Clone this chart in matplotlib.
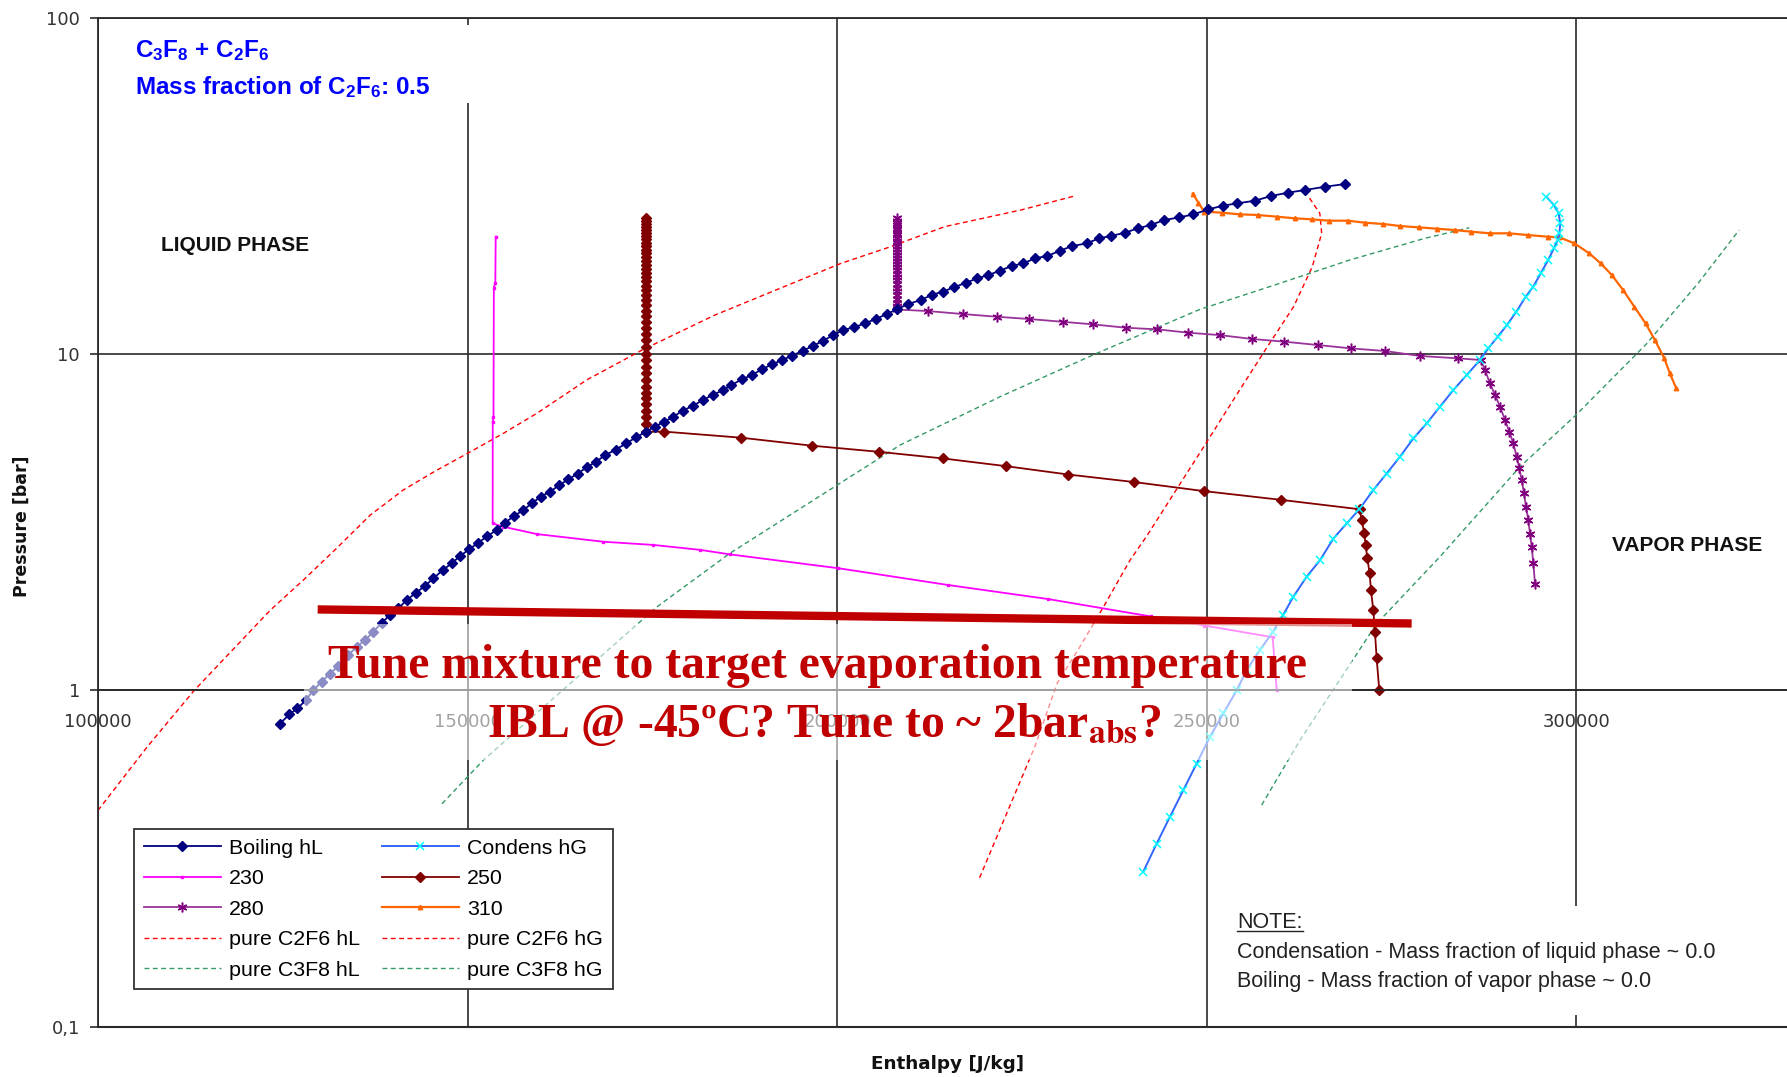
import matplotlib
matplotlib.use("Agg")
import matplotlib.pyplot as plt
from matplotlib.patches import Rectangle
from matplotlib.lines import Line2D

W, H = 1787, 1077

# ---------------- data: enthalpy [J/kg], pressure [bar] ----------------
boil_h = [124621, 125883, 126965, 128138, 129130, 130257, 131384, 132512, 133864, 134991,
          136119, 137246, 138373, 139500, 140628, 141755, 143017, 144235, 145362, 146625,
          147842, 148969, 150187, 151450, 152667, 153929, 155056, 156274, 157536, 158664,
          159881, 161144, 162406, 163624, 164887, 166103, 167366, 168586, 170071, 171424,
          172777, 174130, 175347, 176565, 177827, 179090, 180443, 181796, 183148, 184591,
          185668, 187066, 188464, 189861, 191208, 192553, 193899, 195349, 196695, 198042,
          199491, 200837, 202287, 203788, 205186, 206739, 208033, 209622, 211291, 212779,
          214267, 215800, 217423, 218956, 220444, 222022, 223600, 225178, 226757, 228425,
          230138, 231806, 233745, 235414, 236992, 238931, 240644, 242403, 244251, 246280,
          248174, 250203, 252142, 254126, 256515, 258703, 260982, 263261, 266047, 268731]
boil_p = [0.797, 0.848, 0.884, 0.936, 1.002, 1.061, 1.123, 1.181, 1.274, 1.349,
          1.411, 1.494, 1.590, 1.675, 1.754, 1.857, 1.952, 2.048, 2.154, 2.280,
          2.388, 2.510, 2.628, 2.750, 2.879, 3.000, 3.155, 3.302, 3.440, 3.601,
          3.770, 3.902, 4.083, 4.246, 4.42, 4.61, 4.79, 5.01, 5.21, 5.43,
          5.66, 5.89, 6.09, 6.30, 6.52, 6.80, 7.02, 7.31, 7.57, 7.83,
          8.10, 8.42, 8.68, 9.04, 9.34, 9.62, 9.91, 10.25, 10.59, 10.96,
          11.42, 11.81, 12.05, 12.37, 12.74, 13.18, 13.61, 14.12, 14.51, 15.02,
          15.37, 15.83, 16.34, 16.83, 17.22, 17.74, 18.32, 18.65, 19.31, 19.62,
          20.35, 21.01, 21.39, 22.14, 22.50, 23.01, 23.71, 24.26, 25.11, 25.56,
          26.09, 27.00, 27.69, 28.14, 28.66, 29.60, 30.28, 30.83, 31.55, 32.13]

cond_h = [241412, 243216, 245019, 246823, 248627, 250429, 252233, 254037, 255390, 257193,
          258907, 260350, 261702, 263506, 265310, 267116, 268920, 270633, 272527, 274330,
          276134, 277938, 279741, 281545, 283348, 285152, 286956, 288079, 289345, 290612,
          291878, 293144, 294157, 295170, 296184, 296943, 297450, 297703, 297804, 297601,
          296943, 295930]
cond_p = [0.289, 0.350, 0.421, 0.505, 0.606, 0.728, 0.854, 1.00, 1.15, 1.32,
          1.49, 1.68, 1.90, 2.18, 2.44, 2.83, 3.14, 3.46, 3.95, 4.42,
          4.96, 5.62, 6.23, 6.99, 7.83, 8.68, 9.62, 10.42, 11.28, 12.23,
          13.40, 14.85, 15.90, 17.42, 19.09, 20.67, 21.89, 22.92, 24.54, 26.28,
          27.82, 29.46]

t230_h = [153800, 153750, 153550, 153500, 153400, 153390, 154831, 159340, 168358, 175122,
          181439, 185493, 200160, 214955, 228543, 242433, 249680, 258907, 259463]
t230_p = [22.4, 16.3, 15.8, 6.5, 6.3, 3.14, 3.07, 2.92, 2.77, 2.71,
          2.62, 2.54, 2.31, 2.06, 1.87, 1.66, 1.56, 1.44, 1.00]

# 250: dense column of markers at ~174100 J/kg, then the two-phase line and the vapour part
t250_col_p = [25.4, 25.0, 24.5, 24.0, 23.5, 23.0, 22.5, 22.0, 21.5, 21.0, 20.5, 20.0,
              19.5, 19.0, 18.5, 18.0, 17.5, 17.0, 16.5, 16.0, 15.5, 15.0, 14.5, 14.0,
              13.5, 13.0, 12.5, 12.0, 11.5, 11.0, 10.5, 10.0, 9.6, 9.2, 8.8, 8.4,
              8.0, 7.7, 7.4, 7.1, 6.8, 6.5, 6.2, 5.88]
t250_col_h = [174100] * len(t250_col_p)
t250_rest_h = [176610, 186995, 196537, 205595, 214352, 222806, 231261, 240138, 249559, 260067,
               270695, 270937, 271300, 271481, 271722, 272024, 272205, 272525, 272750, 272976,
               273336]
t250_rest_p = [5.89, 5.65, 5.35, 5.13, 4.90, 4.65, 4.39, 4.17, 3.92, 3.69,
               3.46, 3.21, 2.95, 2.71, 2.47, 2.23, 1.99, 1.73, 1.49, 1.245,
               1.00]

# 280: dense column at ~208100 J/kg, then two-phase line and vapour part
t280_col_p = [25.4, 25.0, 24.6, 24.2, 23.8, 23.4, 23.0, 22.6, 22.2, 21.8, 21.4, 21.0,
              20.6, 20.2, 19.8, 19.4, 19.0, 18.6, 18.2, 17.8, 17.4, 17.0, 16.6, 16.2,
              15.8, 15.4, 15.0, 14.6, 14.2, 13.9, 13.6]
t280_col_h = [208100] * len(t280_col_p)
t280_rest_h = [212328, 217062, 221571, 225990, 230499, 234647, 239066, 243304, 247498, 251781,
               256170, 260475, 265034, 269491, 274151, 278861, 284028, 287067,
               287632, 288308, 288985, 289661, 290337, 290924, 291465, 291916, 292276, 292592,
               292908, 293178, 293494, 293719, 293945, 294170, 294396]
t280_rest_p = [13.45, 13.18, 12.94, 12.74, 12.50, 12.28, 12.00, 11.87, 11.60, 11.41,
               11.11, 10.91, 10.66, 10.42, 10.23, 9.89, 9.73, 9.62,
               8.98, 8.20, 7.57, 6.99, 6.38, 5.89, 5.43, 4.96, 4.58, 4.23,
               3.86, 3.52, 3.21, 2.93, 2.68, 2.39, 2.08]

t310_h = [248084, 248852, 249618, 252006, 254487, 256930, 259462, 261995, 264274, 266553,
          269086, 271365, 273897, 276177, 278709, 281089, 283521, 285800, 288332, 290865,
          293397, 296184, 297703, 299729, 301755, 303274, 304794, 306313, 307833, 309352,
          310618, 311884, 312644, 313505]
t310_p = [30.1, 28.3, 26.6, 26.4, 26.1, 25.98, 25.69, 25.39, 25.22, 24.99,
          24.99, 24.65, 24.43, 24.09, 23.87, 23.66, 23.44, 23.17, 22.92, 22.92,
          22.65, 22.39, 22.29, 21.40, 19.97, 18.66, 17.22, 15.54, 13.86, 12.37,
          11.03, 9.73, 8.78, 7.92]

c2f6_hl_h = [99300, 106672, 113013, 123268, 127777, 132286, 136795, 141304, 145813, 149961,
             154831, 159340, 166103, 173606, 183442, 200526, 207256, 214504, 224858, 232106]
c2f6_hl_p = [0.42, 0.68, 1.00, 1.73, 2.13, 2.65, 3.32, 3.95, 4.52, 5.07,
             5.82, 6.67, 8.39, 10.3, 13.09, 18.66, 20.92, 23.98, 26.89, 29.60]

c2f6_hg_h = [219258, 226732, 229751, 232845, 236001, 239609, 241829, 249585, 254144, 258196,
             261742, 264274, 265540, 265287, 263767]
c2f6_hg_p = [0.277, 0.68, 1.05, 1.35, 1.77, 2.44, 2.87, 5.31, 7.65, 10.54,
             13.86, 18.24, 22.92, 26.28, 29.46]

c3f8_hl_h = [146532, 152126, 175572, 185493, 208495, 222022, 235098, 249076, 259209, 269339,
             279469, 285512]
c3f8_hl_p = [0.46, 0.62, 1.77, 2.56, 5.37, 7.48, 10.07, 13.61, 16.09, 19.09,
             22.14, 23.8]

c3f8_hg_h = [257419, 262607, 272978, 281545, 292366, 299942, 309400, 316444, 322016]
c3f8_hg_p = [0.456, 0.711, 1.58, 2.50, 4.63, 6.60, 10.7, 16.26, 23.44]

# annotation line (hand-drawn target line on the slide)
target_h = [129720, 277710]
target_p = [1.742, 1.582]

x_ticks = [100000, 150000, 200000, 250000, 300000]
x_ticklabels = ["100000", "150000", "200000", "250000", "300000"]
y_ticks = [0.1, 1, 10, 100]
y_ticklabels = ["0,1", "1", "10", "100"]

# ---------------- styling ----------------
plt.rcParams["mathtext.fontset"] = "custom"
plt.rcParams["mathtext.rm"] = "Liberation Sans:bold"
plt.rcParams["mathtext.it"] = "Liberation Sans:bold"
plt.rcParams["mathtext.bf"] = "Liberation Sans:bold"

def fx(x):
    return x / W

def fy(y):
    return 1 - y / H

fig = plt.figure(figsize=(W / 100, H / 100), dpi=100)
fig.patch.set_facecolor("white")
ax_left, ax_top, ax_bottom = 98, 18.3, 1026.5
ax = fig.add_axes([fx(ax_left), fy(ax_bottom), 1 - fx(ax_left), fy(ax_top) - fy(ax_bottom)])
ax.set_yscale("log")
ax.set_xlim(100000, 100000 + (W - ax_left) * 135.28)
ax.set_ylim(0.1, 100)

GRID = "#2a2a2a"
ax.set_axisbelow(True)
ax.grid(True, which="major", color=GRID, lw=1.2)
ax.minorticks_off()
ax.set_xticks(x_ticks)
ax.set_xticklabels(x_ticklabels)
ax.set_yticks(y_ticks)
ax.set_yticklabels(y_ticklabels)
ax.tick_params(axis="x", length=0, pad=16, labelsize=13, labelcolor="#333333")
ax.tick_params(axis="y", length=6, width=1.2, color=GRID, pad=7, labelsize=13,
               labelcolor="#333333", which="major")
for lab in ax.get_xticklabels() + ax.get_yticklabels():
    lab.set_family("DejaVu Sans")
ax.spines["right"].set_visible(False)
ax.spines["bottom"].set_position(("data", 1.0))
for s in ("left", "top", "bottom"):
    ax.spines[s].set_color(GRID)
    ax.spines[s].set_linewidth(1.3)
ax.axhline(0.1, color=GRID, lw=1.5, clip_on=False)

dash = (0, (3.5, 2.5))
l_c2f6_hl, = ax.plot(c2f6_hl_h, c2f6_hl_p, color="#ff0000", lw=1.0, ls=dash, label="pure C2F6 hL")
l_c2f6_hg, = ax.plot(c2f6_hg_h, c2f6_hg_p, color="#ff0000", lw=1.0, ls=dash, label="pure C2F6 hG")
l_c3f8_hl, = ax.plot(c3f8_hl_h, c3f8_hl_p, color="#339966", lw=1.0, ls=dash, label="pure C3F8 hL")
l_c3f8_hg, = ax.plot(c3f8_hg_h, c3f8_hg_p, color="#339966", lw=1.0, ls=dash, label="pure C3F8 hG")

l_230, = ax.plot(t230_h, t230_p, color="#ff00ff", lw=1.3, marker="s", ms=2,
                 mfc="#ff00ff", mec="#ff00ff", label="230")
l_250, = ax.plot(t250_col_h + t250_rest_h, t250_col_p + t250_rest_p, color="#800000", lw=1.3,
                 marker="D", ms=4.6, mfc="#800000", mec="#800000", label="250")
l_280, = ax.plot(t280_col_h + t280_rest_h, t280_col_p + t280_rest_p, color="#993399", lw=1.3,
                 marker=(6, 2, 0), ms=7, mfc="#800080", mec="#800080", mew=1.1, label="280")
l_310, = ax.plot(t310_h, t310_p, color="#ff6600", lw=1.6, marker="^", ms=3.2,
                 mfc="#ff6600", mec="#ff6600", label="310")
l_cond, = ax.plot(cond_h, cond_p, color="#3366ff", lw=1.4, marker="x", ms=6,
                  mec="#00ffff", mew=1.1, label="Condens hG")
l_boil, = ax.plot(boil_h, boil_p, color="#000080", lw=1.3, marker="D", ms=4.7,
                  mfc="#000080", mec="#000080", label="Boiling hL")

# hand-drawn red target line
ax.plot(target_h, target_p, color="#c00000", lw=6, solid_capstyle="butt", zorder=5)

handles = [l_boil, l_230, l_280, l_c2f6_hl, l_c3f8_hl,
           l_cond, l_250, l_310, l_c2f6_hg, l_c3f8_hg]
leg = ax.legend(handles=handles, labels=[h.get_label() for h in handles], ncol=2,
                loc="upper left", bbox_to_anchor=(fx(134), fy(829)),
                bbox_transform=fig.transFigure, borderaxespad=0,
                prop={"family": "Liberation Sans", "size": 15.4},
                handlelength=3.6, handletextpad=0.4, columnspacing=1.0,
                labelspacing=0.54, borderpad=0.45, fancybox=False, framealpha=1,
                edgecolor="#333333")
leg.get_frame().set_linewidth(1.3)
leg.set_zorder(20)

# white text boxes of the original chart (cover gridlines)
fig.add_artist(Rectangle((fx(110), fy(103)), fx(500) - fx(110), fy(25) - fy(103),
                         transform=fig.transFigure, facecolor="white", edgecolor="none", zorder=1))
fig.add_artist(Rectangle((fx(1222), fy(1015)), fx(1745) - fx(1222), fy(906) - fy(1015),
                         transform=fig.transFigure, facecolor="white", edgecolor="none", zorder=1))
# semi-transparent white box behind the slide annotation
fig.add_artist(Rectangle((fx(304), fy(760)), fx(1352) - fx(304), fy(624) - fy(760),
                         transform=fig.transFigure, facecolor="white", edgecolor="none",
                         alpha=0.55, zorder=1.5))

# chart texts
fig.text(fx(135), fy(56.7), "C$_3$F$_8$ + C$_2$F$_6$", color="#0000ff", fontsize=17.5,
         family="Liberation Sans", weight="bold", ha="left", va="baseline",
         math_fontfamily="custom", zorder=3)
fig.text(fx(135), fy(94), "Mass fraction of C$_2$F$_6$: 0.5", color="#0000ff", fontsize=17.5,
         family="Liberation Sans", weight="bold", ha="left", va="baseline",
         math_fontfamily="custom", zorder=3)
fig.text(fx(161), fy(251), "LIQUID PHASE", color="#111111", fontsize=15,
         family="Liberation Sans", weight="bold", ha="left", va="baseline")
fig.text(fx(1612), fy(550.7), "VAPOR PHASE", color="#111111", fontsize=15,
         family="Liberation Sans", weight="bold", ha="left", va="baseline")
fig.text(fx(22), fy(526), "Pressure [bar]", rotation=90, fontsize=12.5, weight="bold",
         family="DejaVu Sans", ha="center", va="center", color="#111111")
fig.text(fx(948), fy(1064), "Enthalpy [J/kg]", fontsize=13.2, weight="bold",
         family="DejaVu Sans", ha="center", va="center", color="#111111")

note_kw = dict(fontsize=15.5, family="Liberation Sans", color="#222222",
               ha="left", va="baseline", zorder=3)
t_note = fig.text(fx(1237), fy(928), "NOTE:", **note_kw)
fig.text(fx(1237), fy(958), "Condensation - Mass fraction of liquid phase ~ 0.0", **note_kw)
fig.text(fx(1237), fy(987), "Boiling - Mass fraction of vapor phase ~ 0.0", **note_kw)

# slide annotation
fig.text(fx(818), fy(678), "Tune mixture to target evaporation temperature", color="#c00000",
         fontsize=34.3, family="Liberation Serif", weight="bold", ha="center", va="baseline",
         zorder=4)
fig.text(fx(824), fy(736.7), r"IBL @ -45ºC? Tune to ~ 2bar$_{\mathbf{abs}}$?", color="#c00000",
         fontsize=34.3, family="Liberation Serif", weight="bold", ha="center", va="baseline",
         math_fontfamily="stix", zorder=4)

# underline for NOTE:
fig.canvas.draw()
bb = t_note.get_window_extent()
fig.add_artist(Line2D([bb.x0 / W, bb.x1 / W], [fy(931), fy(931)], transform=fig.transFigure,
                      color="#222222", lw=1.0, zorder=3))

fig.savefig("out.png", dpi=100, facecolor="white")
